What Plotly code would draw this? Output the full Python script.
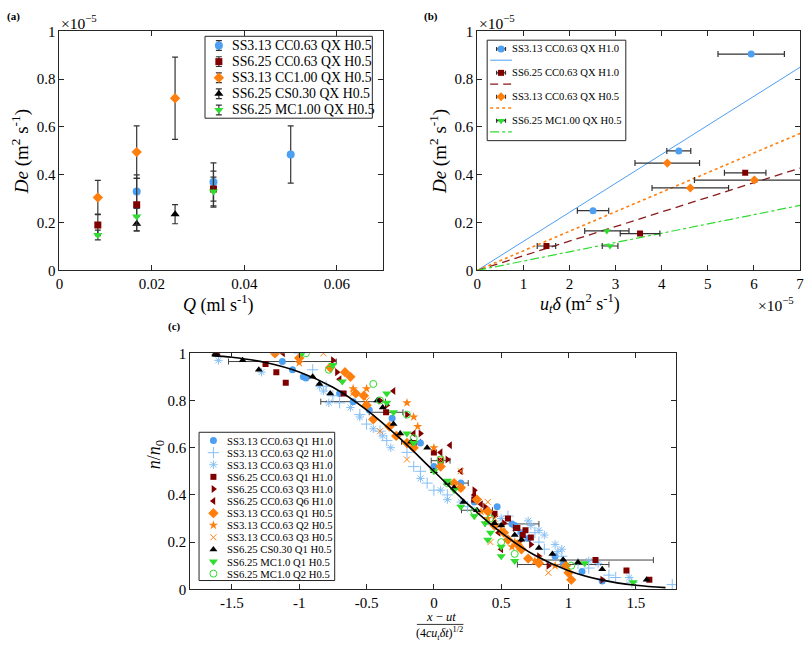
import plotly.graph_objects as go

W, H = 810, 649

# ---------------- Panel (a): De vs Q ----------------
a_names = ["SS3.13 CC0.63 QX H0.5", "SS6.25 CC0.63 QX H0.5", "SS3.13 CC1.00 QX H0.5",
           "SS6.25 CS0.30 QX H0.5", "SS6.25 MC1.00 QX H0.5"]
a_q = [[0.0167, 0.0333, 0.05],
       [0.0083, 0.0167, 0.0333],
       [0.0083, 0.0167, 0.025],
       [0.0167, 0.025],
       [0.0083, 0.0167, 0.0333]]
a_de = [[0.33, 0.37, 0.485],
        [0.19, 0.275, 0.34],
        [0.305, 0.495, 0.72],
        [0.195, 0.235],
        [0.148, 0.225, 0.33]]
a_err = [[0.07, 0.08, 0.12],
         [0.045, 0.11, 0.075],
         [0.072, 0.11, 0.172],
         [0.03, 0.04],
         [0.02, 0.035, 0.06]]

# ---------------- Panel (b): De vs u_t*delta ----------------
b_names = ["SS3.13 CC0.63 QX H1.0", "SS6.25 CC0.63 QX H1.0",
           "SS3.13 CC0.63 QX H0.5", "SS6.25 MC1.00 QX H0.5"]
b_x = [[2.51, 4.37, 5.94],
       [1.50, 3.53, 5.81],
       [4.12, 4.62, 6.01],
       [2.81, 2.88]]
b_y = [[0.25, 0.50, 0.905],
       [0.102, 0.154, 0.408],
       [0.449, 0.345, 0.378],
       [0.165, 0.102]]
b_xerr = [[0.34, 0.26, 0.72],
          [0.20, 0.43, 0.45],
          [0.70, 0.83, 1.30],
          [0.48, 0.17]]
fit_x = [0.0, 7.0]
fit_y = [[0.0, 0.85], [0.0, 0.428], [0.0, 0.573], [0.0, 0.272]]

# ---------------- Panel (c): n/n0 vs similarity variable ----------------
c_names = ["SS3.13 CC0.63 Q1 H1.0", "SS3.13 CC0.63 Q2 H1.0", "SS3.13 CC0.63 Q3 H1.0",
           "SS6.25 CC0.63 Q1 H1.0", "SS6.25 CC0.63 Q3 H1.0", "SS6.25 CC0.63 Q6 H1.0",
           "SS3.13 CC0.63 Q1 H0.5", "SS3.13 CC0.63 Q2 H0.5", "SS3.13 CC0.63 Q3 H0.5",
           "SS6.25 CS0.30 Q1 H0.5", "SS6.25 MC1.0 Q1 H0.5", "SS6.25 MC1.0 Q2 H0.5"]
c_xi = [
    [-1.18, -1.125, -1.05, -0.97, -0.95, -0.7, -0.6, -0.48, -0.31, -0.1, 0.0, 0.2, 0.3, 0.47, 0.58, 0.6, 0.65, 0.7, 0.9, 0.96, 1.1, 1.25],
    [-1.0, -0.9, -0.8, -0.75, -0.7, -0.55, -0.5, -0.4, -0.35, -0.2, -0.15, -0.1, -0.05, 0.0, 0.1, 0.25, 0.4, 0.55, 0.62, 0.75, 0.78, 0.82, 0.95, 1.07, 1.15, 1.3, 1.35, 1.47, 1.77],
    [-1.6, -1.28, -0.85, -0.82, -0.78, -0.62, -0.55, -0.45, -0.38, -0.32, -0.1, 0.05, 0.1, 0.2, 0.5, 0.7, 0.72, 0.78, 0.82, 0.9, 0.92, 0.95, 1.15, 1.22, 1.45],
    [-1.62, -1.25, -1.17, -1.1, -0.67, -0.355, -0.15, 0.0, 0.05, 0.3, 0.45, 0.55, 0.62, 0.68, 0.66, 0.72, 1.2, 1.43, 1.6],
    [-0.75, -0.72, -0.4, -0.35, -0.2, -0.1, 0.1, 0.3, 0.38, 0.45, 0.52, 0.6, 0.65, 0.72, 0.78, 0.85, 1.25],
    [-1.6, -1.12, -0.7, -0.3, -0.15, 0.05, 0.12, 0.2, 0.3, 0.35, 0.4, 0.45, 0.48, 0.5],
    [-1.18, -1.0, -0.77, -0.66, -0.62, -0.58, -0.52, -0.5, -0.45, -0.33, -0.28, -0.2, -0.15, 0.05, 0.15, 0.2, 0.32, 0.4, 0.45, 0.52, 0.55, 0.62, 0.65, 0.7, 0.78, 0.98, 1.0, 1.02],
    [-1.0, -0.6, -0.5, -0.2, -0.15, -0.12, 0.0, 0.2, 0.35, 0.4, 0.5, 0.6, 0.58, 0.75, 0.9],
    [-0.82, -0.6, -0.5, -0.4, -0.2, 0.05, 0.2, 0.4, 0.45, 0.5, 0.42, 0.78, 0.75, 0.85],
    [-1.62, -1.42, -1.3, -0.9, -0.85, -0.77, -0.42, -0.38, -0.3, -0.25, -0.17, -0.05, 0.0, 0.1, 0.15, 0.22, 0.32, 0.45, 0.5, 0.6, 0.65, 0.78, 0.88, 0.96, 1.07, 1.25, 1.58],
    [-0.98, -0.75, -0.68, -0.35, -0.35, -0.3, -0.2, -0.15, 0.0, 0.1, 0.15, 0.2, 0.3, 0.38, 0.42, 0.4, 0.5, 0.5, 0.6, 1.12, 1.48],
    [-0.95, -0.78, -0.45, -0.4, -0.2, -0.15, 0.05, 0.1, 0.3, 0.42, 0.5, 0.6, 1.02],
]
c_n = [
    [1.0, 0.965, 0.93, 0.9, 0.895, 0.83, 0.795, 0.76, 0.725, 0.62, 0.52, 0.45, 0.37, 0.35, 0.277, 0.27, 0.24, 0.215, 0.14, 0.105, 0.075, 0.035],
    [1.0, 0.93, 0.86, 0.82, 0.79, 0.74, 0.7, 0.67, 0.63, 0.58, 0.52, 0.5, 0.45, 0.42, 0.4, 0.35, 0.33, 0.31, 0.25, 0.24, 0.2, 0.17, 0.14, 0.11, 0.09, 0.06, 0.05, 0.03, 0.02],
    [0.97, 0.92, 0.86, 0.84, 0.79, 0.77, 0.73, 0.68, 0.65, 0.6, 0.47, 0.42, 0.38, 0.37, 0.3, 0.29, 0.27, 0.25, 0.23, 0.19, 0.16, 0.17, 0.12, 0.11, 0.05],
    [1.0, 0.955, 0.92, 0.875, 0.83, 0.75, 0.62, 0.58, 0.545, 0.38, 0.32, 0.3, 0.26, 0.25, 0.23, 0.22, 0.124, 0.08, 0.04],
    [0.97, 0.92, 0.8, 0.78, 0.74, 0.66, 0.55, 0.42, 0.35, 0.31, 0.28, 0.26, 0.21, 0.19, 0.14, 0.1, 0.04],
    [1.0, 1.0, 0.89, 0.84, 0.66, 0.58, 0.61, 0.5, 0.4, 0.36, 0.33, 0.28, 0.24, 0.17],
    [1.0, 0.98, 0.94, 0.92, 0.9, 0.83, 0.82, 0.78, 0.72, 0.69, 0.65, 0.62, 0.6, 0.52, 0.45, 0.43, 0.38, 0.33, 0.27, 0.24, 0.21, 0.19, 0.17, 0.13, 0.11, 0.1, 0.07, 0.04],
    [0.96, 0.85, 0.85, 0.79, 0.73, 0.69, 0.6, 0.43, 0.33, 0.3, 0.25, 0.2, 0.18, 0.12, 0.1],
    [1.0, 0.83, 0.8, 0.67, 0.55, 0.55, 0.5, 0.37, 0.3, 0.26, 0.2, 0.13, 0.12, 0.07],
    [1.0, 0.97, 0.93, 0.9, 0.87, 0.83, 0.8, 0.77, 0.7, 0.66, 0.625, 0.6, 0.5, 0.45, 0.43, 0.37, 0.335, 0.28, 0.27, 0.23, 0.21, 0.175, 0.15, 0.125, 0.115, 0.085, 0.04],
    [1.0, 0.95, 0.88, 0.83, 0.79, 0.75, 0.66, 0.62, 0.5, 0.46, 0.42, 0.35, 0.31, 0.28, 0.24, 0.21, 0.18, 0.14, 0.12, 0.11, 0.03],
    [1.0, 0.93, 0.87, 0.8, 0.74, 0.64, 0.55, 0.45, 0.33, 0.3, 0.2, 0.15, 0.1],
]
# horizontal error bars shown on selected points
eb_xi = [-1.125, -0.6, -0.355, -0.17, 0.05, 0.2, 0.32, 0.58, 1.2, 0.96]
eb_n = [0.965, 0.795, 0.75, 0.625, 0.545, 0.45, 0.335, 0.277, 0.124, 0.105]
eb_err = [0.40, 0.24, 0.125, 0.07, 0.07, 0.055, 0.115, 0.20, 0.43, 0.34]
# model curve
curve_xi = [-1.65, -1.5, -1.25, -1.0, -0.75, -0.5, -0.25, 0.0, 0.25, 0.5, 0.75, 1.0, 1.25, 1.5, 1.72]
curve_n = [0.990, 0.983, 0.961, 0.921, 0.856, 0.760, 0.638, 0.5, 0.362, 0.240, 0.144, 0.079, 0.039, 0.017, 0.007]

# ---------------- styles ----------------
BLUE = "#4d9ff2"
LBLUE = "#86bff5"
DRED = "#800000"
ORANGE = "#ff7f0e"
GREEN = "#2fdc2f"
SERIF = "Liberation Serif"
AXC = "#262626"

a_sty = [dict(symbol="circle", color=BLUE, size=8),
         dict(symbol="square", color=DRED, size=7),
         dict(symbol="diamond", color=ORANGE, size=8),
         dict(symbol="triangle-up", color="black", size=8),
         dict(symbol="triangle-down", color=GREEN, size=8)]
b_sty = [dict(symbol="circle", color=BLUE, size=7),
         dict(symbol="square", color=DRED, size=6),
         dict(symbol="diamond", color=ORANGE, size=7),
         dict(symbol="triangle-down", color=GREEN, size=7)]
b_line = [dict(color=BLUE, width=1, dash="solid"),
          dict(color="#8b1a1a", width=1.3, dash="8px,5px"),
          dict(color=ORANGE, width=1.6, dash="dot"),
          dict(color=GREEN, width=1.2, dash="dashdot")]
c_sty = [dict(symbol="circle", color=BLUE, size=7),
         dict(symbol="cross-thin-open", color=LBLUE, size=8, line=dict(width=1, color=LBLUE)),
         dict(symbol="asterisk-open", color=LBLUE, size=7, line=dict(width=1, color=LBLUE)),
         dict(symbol="square", color=DRED, size=6),
         dict(symbol="triangle-right", color=DRED, size=7),
         dict(symbol="triangle-left", color=DRED, size=7),
         dict(symbol="diamond", color=ORANGE, size=8),
         dict(symbol="star", color=ORANGE, size=7),
         dict(symbol="x-thin-open", color=ORANGE, size=6, line=dict(width=1, color=ORANGE)),
         dict(symbol="triangle-up", color="black", size=7),
         dict(symbol="triangle-down", color=GREEN, size=8),
         dict(symbol="circle-open", color=GREEN, size=7, line=dict(width=1, color=GREEN))]

fig = go.Figure()

# panel (a)
for i in range(5):
    fig.add_trace(go.Scatter(x=a_q[i], y=a_de[i], mode="markers", name=a_names[i],
                             marker=a_sty[i], showlegend=False, xaxis="x", yaxis="y",
                             error_y=dict(type="data", array=a_err[i], color="#333333",
                                          thickness=1.2, width=3)))
# panel (b)
for i in range(4):
    fig.add_trace(go.Scatter(x=fit_x, y=fit_y[i], mode="lines", line=b_line[i],
                             showlegend=False, xaxis="x2", yaxis="y2"))
for i in range(4):
    fig.add_trace(go.Scatter(x=b_x[i], y=b_y[i], mode="markers", name=b_names[i],
                             marker=b_sty[i], showlegend=False, xaxis="x2", yaxis="y2", cliponaxis=True,
                             error_x=dict(type="data", array=b_xerr[i], color="#333333",
                                          thickness=1.2, width=3)))
# panel (c)
fig.add_trace(go.Scatter(x=eb_xi, y=eb_n, mode="markers", marker=dict(size=2, opacity=0),
                         showlegend=False, xaxis="x3", yaxis="y3",
                         error_x=dict(type="data", array=eb_err, color="#444444",
                                      thickness=1, width=3)))
for i in range(12):
    fig.add_trace(go.Scatter(x=c_xi[i], y=c_n[i], mode="markers", name=c_names[i],
                             marker=c_sty[i], showlegend=False, xaxis="x3", yaxis="y3"))
fig.add_trace(go.Scatter(x=curve_xi, y=curve_n, mode="lines", line=dict(color="black", width=1.6, shape="spline"),
                         showlegend=False, xaxis="x3", yaxis="y3"))

# ---------------- manual legends on a pixel overlay axis ----------------
def legend_box(x0, y0, x1, y1):
    fig.add_trace(go.Scatter(x=[x0, x1, x1, x0, x0], y=[y0, y0, y1, y1, y0], mode="lines",
                             fill="toself", fillcolor="white", line=dict(color=AXC, width=1),
                             showlegend=False, xaxis="x4", yaxis="y4", hoverinfo="skip"))

annotations = []

def legend_text(x, y, text, size):
    annotations.append(dict(x=x, y=y, xref="x4", yref="y4", text=text, showarrow=False,
                            xanchor="left", yanchor="middle", font=dict(family=SERIF, size=size, color="black")))

# legend (a)
legend_box(203, 29, 372, 113)
for i in range(5):
    yy = 38.5 + 16.5 * i
    fig.add_trace(go.Scatter(x=[217], y=[yy], mode="markers", marker=a_sty[i], showlegend=False,
                             xaxis="x4", yaxis="y4",
                             error_y=dict(type="data", array=[5], color="#333333", thickness=1.2, width=3)))
    legend_text(228, yy, a_names[i], 13.8)

# legend (b)
legend_box(488, 33, 628, 136)
for i in range(4):
    ym = 42 + 24.5 * i
    yl = ym + 11.5
    fig.add_trace(go.Scatter(x=[502], y=[ym], mode="markers", marker=b_sty[i], showlegend=False,
                             xaxis="x4", yaxis="y4",
                             error_x=dict(type="data", array=[4.5], color="#333333", thickness=1.2, width=2)))
    fig.add_trace(go.Scatter(x=[491, 513], y=[yl, yl], mode="lines", line=b_line[i], showlegend=False,
                             xaxis="x4", yaxis="y4"))
    legend_text(511, ym, b_names[i], 10.6)

# legend (c)
legend_box(197, 435, 334, 587)
for i in range(12):
    yy = 443.5 + 12.4 * i
    fig.add_trace(go.Scatter(x=[211.5], y=[yy], mode="markers", marker=c_sty[i], showlegend=False,
                             xaxis="x4", yaxis="y4"))
    legend_text(223, yy, c_names[i], 10.7)

# ---------------- axis titles and labels ----------------
def label(x, y, text, size, angle=0, bold=False, xanchor="center"):
    if bold:
        text = "<b>" + text + "</b>"
    annotations.append(dict(x=x, y=y, xref="x4", yref="y4", text=text, showarrow=False,
                            xanchor=xanchor, yanchor="middle", textangle=angle,
                            font=dict(family=SERIF, size=size, color="black")))

label(10, 9, "(a)", 11, bold=True)
label(431, 9, "(b)", 11, bold=True)
label(172, 327, "(c)", 11, bold=True)
label(56, 14, "×10<sup>−5</sup>", 15.5, xanchor="left")
label(478, 14, "×10<sup>−5</sup>", 15.5, xanchor="left")
label(759, 303, "×10<sup>−5</sup>", 15.5, xanchor="left")
label(217, 303, "<i>Q</i> (ml s<sup>-1</sup>)", 18)
label(582, 303, "<i>u<sub>t</sub>δ</i> (m<sup>2</sup> s<sup>-1</sup>)", 18)
label(17, 147, "<i>De</i> (m<sup>2</sup> s<sup>-1</sup>)", 19, angle=-90)
label(439, 147, "<i>De</i> (m<sup>2</sup> s<sup>-1</sup>)", 19, angle=-90)
label(153, 458, "<i>n</i>/<i>n</i><sub>0</sub>", 18, angle=-90)
label(441, 624, "<i>x</i> − <i>ut</i>", 12.5)
label(440, 641, "(4<i>cu<sub>t</sub>δt</i>)<sup>1/2</sup>", 12)

shapes = [dict(type="line", xref="x4", yref="y4", x0=417, x1=464, y0=632, y1=632,
               line=dict(color="black", width=0.8))]

def yd(top, bottom):
    return [1 - bottom / H, 1 - top / H]

axis_common = dict(showgrid=False, zeroline=False, showline=True, linecolor=AXC, linewidth=1,
                   mirror="ticks", ticks="inside", ticklen=5, tickcolor=AXC,
                   tickfont=dict(family=SERIF, size=15, color="black"))

fig.update_layout(
    width=W, height=H, margin=dict(l=0, r=0, t=0, b=0),
    paper_bgcolor="white", plot_bgcolor="rgba(0,0,0,0)", showlegend=False,
    xaxis=dict(domain=[56 / W, 383 / W], range=[0, 0.07], dtick=0.02, tick0=0, anchor="y", **axis_common),
    yaxis=dict(domain=yd(24, 269), range=[0, 1], dtick=0.2, anchor="x", **axis_common),
    xaxis2=dict(domain=[478 / W, 804 / W], range=[0, 7], tickvals=[0, 1, 2, 3, 4, 5, 6, 7],
                ticklabeloverflow="allow", anchor="y2", **axis_common),
    yaxis2=dict(domain=yd(24, 269), range=[0, 1], dtick=0.2, anchor="x2", **axis_common),
    xaxis3=dict(domain=[188 / W, 679 / W], range=[-1.81, 1.8], tickvals=[-1.5, -1, -0.5, 0, 0.5, 1, 1.5],
                ticktext=["-1.5", "-1", "-0.5", "0", "0.5", "1", "1.5"], anchor="y3", **axis_common),
    yaxis3=dict(domain=yd(354, 596), range=[0, 1], dtick=0.2, anchor="x3", **axis_common),
    xaxis4=dict(domain=[0, 1], range=[0, W], visible=False, anchor="y4", fixedrange=True),
    yaxis4=dict(domain=[0, 1], range=[H, 0], visible=False, anchor="x4", fixedrange=True),
    annotations=annotations, shapes=shapes,
)

fig.write_html("out.html", config={"displayModeBar": False},
               post_script="document.body.style.margin='0';")
